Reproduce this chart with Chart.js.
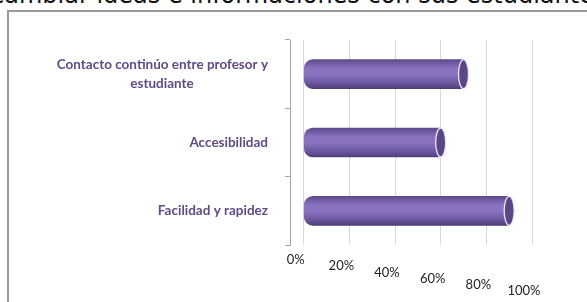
<!DOCTYPE html>
<html>
<head>
<meta charset="utf-8">
<script src="https://cdn.jsdelivr.net/npm/chart.js@4.4.1/dist/chart.umd.min.js"></script>
<style>
html, body { margin: 0; padding: 0; background: #fff; overflow: hidden; }
#wrap { position: relative; width: 587px; height: 302px; overflow: hidden; }
#doc { position: absolute; left: -9px; top: -17px; font: 24px/24px "DejaVu Sans"; color: #111; white-space: nowrap; z-index: 1; }
#bordeSup { position: absolute; left: 7px; top: 10px; width: 600px; height: 2px; background: #9a9a9a; z-index: 3; }
#bordeIzq { position: absolute; left: 7px; top: 10px; width: 2px; height: 300px; background: #9a9a9a; z-index: 3; }
canvas { position: absolute; left: 0; top: 0; z-index: 2; }
</style>
</head>
<body>
<div id="wrap">
  <div id="doc">cambiar ideas e informaciones con sus estudiantes</div>
  <div id="bordeSup"></div>
  <div id="bordeIzq"></div>
  <canvas id="grafico" width="587" height="302"></canvas>
</div>
<script>
// datos del grafico
const categorias = [['Contacto continúo entre profesor y', 'estudiante'], 'Accesibilidad', 'Facilidad y rapidez'];
const valores = [70, 60, 90];
const ticksX = [0, 20, 40, 60, 80, 100];
const etiquetasX = ['0%', '20%', '40%', '60%', '80%', '100%'];

const fuenteEtiq = { family: 'Lato', weight: 'bold', size: 13.5, lineHeight: 1.4 };

// centra las lineas de una etiqueta rellenando con espacios finos
const medidor = document.createElement('canvas').getContext('2d');
function centrar(lineas) {
    if (!Array.isArray(lineas)) return lineas;
    medidor.font = 'bold 13.5px Lato';
    const w = lineas.map(t => medidor.measureText(t).width);
    const max = Math.max(...w);
    const esp = medidor.measureText('\u2009').width || 2;
    return lineas.map((t, i) => t + '\u2009'.repeat(Math.round((max - w[i]) / 2 / esp)));
}

// degradado tipo cilindro para cada barra
function colorCilindro(ctx) {
    const chart = ctx.chart;
    const y = chart.scales.y;
    if (!y || ctx.dataIndex === undefined) return '#7b62b0';
    const c = y.getPixelForValue(ctx.dataIndex);
    if (!isFinite(c)) return '#7b62b0';
    const g = chart.ctx.createLinearGradient(0, c - 15, 0, c + 15);
    g.addColorStop(0, '#5b4888');
    g.addColorStop(0.3, '#8a71bf');
    g.addColorStop(0.5, '#8c74c2');
    g.addColorStop(0.8, '#6c569f');
    g.addColorStop(1, '#4c3b76');
    return g;
}

// tapa del extremo derecho de cada cilindro
const tapas = {
    id: 'tapas',
    afterDatasetsDraw(chart) {
        const c = chart.ctx;
        chart.getDatasetMeta(0).data.forEach(bar => {
            c.save();
            c.beginPath();
            c.ellipse(bar.x, bar.y, 5, bar.height / 2, 0, 0, Math.PI * 2);
            c.fillStyle = '#5a4788';
            c.fill();
            c.lineWidth = 1.3;
            c.strokeStyle = '#ebe7f2';
            c.stroke();
            c.restore();
        });
    }
};

new Chart(document.getElementById('grafico'), {
    type: 'bar',
    data: {
        labels: categorias,
        datasets: [{
            data: valores,
            backgroundColor: colorCilindro,
            barThickness: 29,
            borderSkipped: false,
            borderRadius: { topLeft: 9, bottomLeft: 9, topRight: 0, bottomRight: 0 }
        }]
    },
    options: {
        indexAxis: 'y',
        responsive: false,
        animation: false,
        layout: { padding: { top: 40, right: 55, bottom: 0, left: 0 } },
        plugins: { legend: { display: false }, tooltip: { enabled: false } },
        scales: {
            x: {
                type: 'linear', min: -6, max: 100,
                afterBuildTicks(s) { s.ticks = ticksX.map(v => ({ value: v })); },
                afterFit(s) { s.height = 57; },
                grid: { color: '#d9d9d9', drawTicks: false },
                border: { display: false },
                ticks: {
                    autoSkip: false, maxRotation: 0, padding: 0, labelOffset: -8, color: '#222',
                    callback: (v, i) => etiquetasX[i],
                    font: c => ({ family: 'Lato', size: 13, lineHeight: (30 + 12.4 * (c.index || 0)) + 'px' })
                }
            },
            y: {
                afterFit(s) { s.width = 290; },
                grid: { drawOnChartArea: false, offset: true, tickLength: 5, color: '#a6a6a6' },
                border: { display: true, color: '#a6a6a6' },
                ticks: {
                    color: '#5f4a85', padding: 17, font: fuenteEtiq,
                    callback(v) { return centrar(this.getLabelForValue(v)); }
                }
            }
        }
    },
    plugins: [tapas]
});
</script>
</body>
</html>
